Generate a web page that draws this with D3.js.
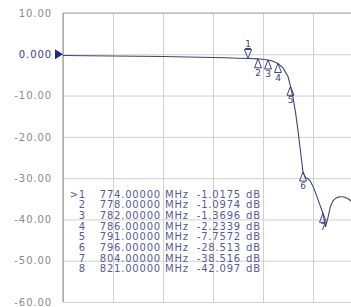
<!DOCTYPE html>
<html>
<head>
<meta charset="utf-8">
<script src="https://cdn.jsdelivr.net/npm/d3@7"></script>
<style>
  body { margin: 0; background: #fff; }
  svg { display: block; }
</style>
</head>
<body>
<div class="chart"></div>
<script>
// trace: frequency (MHz) and level (dB)
var traceFreq = [700, 720, 740, 755, 765, 770, 774, 778, 782, 784, 786, 788, 790, 791, 792, 793, 794, 795, 796, 797, 798, 799, 800, 801, 802, 803, 804, 805, 806, 807, 808, 809, 810, 811, 812, 813, 814, 815, 817, 819, 821];
var traceDb   = [-0.3, -0.4, -0.55, -0.7, -0.85, -0.95, -1.02, -1.10, -1.37, -1.7, -2.23, -3.3, -5.4, -7.76, -10.5, -14, -18.5, -23.5, -28.5, -29.9, -30.1, -30.8, -32, -33.5, -35.2, -36.9, -38.5, -41.8, -39.5, -36.8, -35.5, -34.9, -34.6, -34.5, -34.5, -34.7, -35.0, -35.4, -37, -39.5, -42.1];

// markers
var markerIds   = [1, 2, 3, 4, 5, 6, 7, 8];
var markerFreqs = [774, 778, 782, 786, 791, 796, 804, 821];
var markerVals  = [-1.0175, -1.0974, -1.3696, -2.2339, -7.7572, -28.513, -38.516, -42.097];

// y axis labels
var yTicks  = [10, 0, -10, -20, -30, -40, -50, -60];
var yLabels = ["10.00", "0.000", "-10.00", "-20.00", "-30.00", "-40.00", "-50.00", "-60.00"];
var xTicks  = [700, 720, 740, 760, 780, 800, 820, 840, 860, 880, 900];

var margin = { top: 13, left: 63 };
var width = 500, height = 289;
var ink = "#3d4282";

var svg = d3.select('.chart')
	.append('svg')
	.attr('width', 351)
	.attr('height', 307);

var g = svg.append('g')
	.attr('transform', 'translate(' + margin.left + ',' + margin.top + ')');

var x = d3.scaleLinear().domain([700, 900]).range([0, width]);
var y = d3.scaleLinear().domain([10, -60]).range([0, height]);

// grid
g.append('g')
	.attr('class', 'grid')
	.call(d3.axisLeft(y).tickValues(yTicks).tickSize(-width).tickFormat(''))
	.call(function (s) {
		s.select('.domain').remove();
		s.selectAll('line').attr('stroke', '#d0d0d0');
	});
g.append('g')
	.attr('class', 'grid')
	.attr('transform', 'translate(0,' + height + ')')
	.call(d3.axisBottom(x).tickValues(xTicks).tickSize(-height).tickFormat(''))
	.call(function (s) {
		s.select('.domain').remove();
		s.selectAll('line').attr('stroke', '#d0d0d0');
	});

// frame: left and top lines
g.append('line').attr('x1', 0).attr('x2', 0).attr('y1', 0).attr('y2', height)
	.attr('stroke', '#8c8c8c');
g.append('line').attr('x1', 0).attr('x2', width).attr('y1', 0).attr('y2', 0)
	.attr('stroke', '#a8a8a8');

// y labels, the reference level in blue
g.append('g')
	.call(d3.axisLeft(y).tickValues(yTicks).tickSize(0).tickPadding(11)
		.tickFormat(function (d, i) { return yLabels[i]; }))
	.call(function (s) {
		s.select('.domain').remove();
		s.selectAll('text')
			.attr('fill', function (d) { return d === 0 ? '#3a4088' : '#8a8a8a'; })
			.style('font-family', '"DejaVu Sans", sans-serif')
			.style('font-size', '10px')
			.style('letter-spacing', '0.9px');
	});

// reference level arrow
g.append('path')
	.attr('d', 'M' + (-8) + ',' + (y(0) - 5) + 'L0,' + y(0) + 'L' + (-8) + ',' + (y(0) + 5) + 'Z')
	.attr('fill', '#1f2a80');

// trace
var line = d3.line()
	.x(function (d, i) { return x(traceFreq[i]); })
	.y(function (d) { return y(d); });

g.append('path')
	.datum(traceDb)
	.attr('d', line)
	.attr('fill', 'none')
	.attr('stroke', ink)
	.attr('stroke-width', 1.1);

// markers (8 is past the right edge of the screen)
var mk = g.selectAll('.marker')
	.data(markerIds.filter(function (d, i) { return x(markerFreqs[i]) < 351 - margin.left; }))
	.enter().append('g')
	.attr('class', 'marker')
	.attr('transform', function (d) {
		var i = d - 1;
		return 'translate(' + x(markerFreqs[i]) + ',' + y(markerVals[i]) + ')';
	});

mk.append('path')
	.attr('d', function (d) {
		return d === 1 ? 'M0,0L-3.5,-9L3.5,-9Z' : 'M0,0L-3.5,9L3.5,9Z';
	})
	.attr('fill', 'none')
	.attr('stroke', ink)
	.attr('stroke-width', 1);

mk.append('text')
	.attr('y', function (d) { return d === 1 ? -11 : 17; })
	.attr('text-anchor', 'middle')
	.attr('fill', ink)
	.style('font-family', '"DejaVu Sans", sans-serif')
	.style('font-size', '9px')
	.text(function (d) { return d; });

mk.filter(function (d) { return d === 1; })
	.append('line')
	.attr('x1', -3).attr('x2', 3).attr('y1', -10).attr('y2', -10)
	.attr('stroke', ink);

// marker table
var fmt = d3.format('.5r');
var tableColor = '#565a9a';
var rowY = function (i) { return 197.5 + i * 10.7; };

var rows = svg.selectAll('.row')
	.data(markerIds)
	.enter().append('g')
	.attr('class', 'row')
	.attr('transform', function (d, i) { return 'translate(0,' + rowY(i) + ')'; })
	.style('font-family', '"DejaVu Sans", sans-serif')
	.style('font-size', '10px')
	.style('letter-spacing', '0.8px')
	.attr('fill', tableColor);

rows.append('text').attr('x', 86).attr('text-anchor', 'end')
	.text(function (d) { return (d === 1 ? '>' : '') + d; });
rows.append('text').attr('x', 161).attr('text-anchor', 'end')
	.text(function (d, i) { return markerFreqs[i].toFixed(5); });
rows.append('text').attr('x', 165)
	.text('MHz');
rows.append('text').attr('x', 241).attr('text-anchor', 'end')
	.text(function (d, i) { return fmt(markerVals[i]).replace('\u2212', '-'); });
rows.append('text').attr('x', 246)
	.text('dB');
</script>
</body>
</html>
